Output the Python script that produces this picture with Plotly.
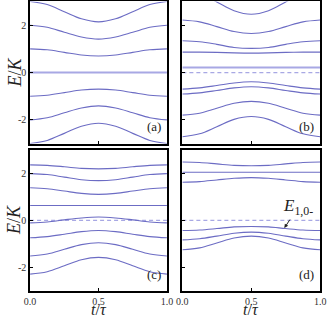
import plotly.graph_objects as go

T = [0.0, 0.125, 0.25, 0.375, 0.5, 0.625, 0.75, 0.875, 1.0]

panel_a = [
    [3.00, 2.87, 2.57, 2.27, 2.14, 2.27, 2.57, 2.87, 3.00],
    [2.00, 1.91, 1.70, 1.50, 1.41, 1.50, 1.70, 1.91, 2.00],
    [1.00, 0.96, 0.85, 0.74, 0.70, 0.74, 0.85, 0.96, 1.00],
    [-1.00, -0.96, -0.85, -0.74, -0.70, -0.74, -0.85, -0.96, -1.00],
    [-2.00, -1.91, -1.70, -1.50, -1.41, -1.50, -1.70, -1.91, -2.00],
    [-3.00, -2.87, -2.57, -2.27, -2.14, -2.27, -2.57, -2.87, -3.00],
]
panel_a_light = [0.0, 0.0, 0.0, 0.0, 0.0, 0.0, 0.0, 0.0, 0.0]

panel_b = [
    [3.50, 3.35, 2.98, 2.61, 2.46, 2.61, 2.98, 3.35, 3.50],
    [2.22, 2.14, 1.94, 1.73, 1.65, 1.73, 1.94, 2.14, 2.22],
    [1.34, 1.30, 1.19, 1.06, 1.02, 1.06, 1.19, 1.30, 1.34],
    [0.86, 0.86, 0.85, 0.83, 0.82, 0.83, 0.85, 0.86, 0.86],
    [-0.70, -0.65, -0.55, -0.44, -0.39, -0.44, -0.55, -0.65, -0.70],
    [-0.91, -0.86, -0.76, -0.65, -0.60, -0.65, -0.76, -0.86, -0.91],
    [-1.80, -1.72, -1.51, -1.30, -1.22, -1.30, -1.51, -1.72, -1.80],
    [-2.71, -2.59, -2.29, -1.98, -1.86, -1.98, -2.29, -2.59, -2.71],
]
panel_b_light = [0.21, 0.21, 0.21, 0.21, 0.21, 0.21, 0.21, 0.21, 0.21]

panel_c = [
    [2.35, 2.33, 2.27, 2.20, 2.18, 2.20, 2.27, 2.33, 2.35],
    [1.98, 1.94, 1.83, 1.72, 1.68, 1.72, 1.83, 1.94, 1.98],
    [1.38, 1.34, 1.24, 1.14, 1.10, 1.14, 1.24, 1.34, 1.38],
    [0.63, 0.63, 0.63, 0.63, 0.63, 0.63, 0.63, 0.63, 0.63],
    [-0.11, -0.07, 0.02, 0.10, 0.14, 0.10, 0.02, -0.07, -0.11],
    [-0.74, -0.69, -0.59, -0.48, -0.43, -0.48, -0.59, -0.69, -0.74],
    [-1.51, -1.43, -1.23, -1.03, -0.95, -1.03, -1.23, -1.43, -1.51],
    [-2.28, -2.18, -1.93, -1.67, -1.57, -1.67, -1.93, -2.18, -2.28],
]

panel_d = [
    [2.47, 2.45, 2.39, 2.33, 2.31, 2.33, 2.39, 2.45, 2.47],
    [2.04, 2.04, 2.04, 2.04, 2.04, 2.04, 2.04, 2.04, 2.04],
    [1.61, 1.64, 1.71, 1.78, 1.81, 1.78, 1.71, 1.64, 1.61],
    [-0.43, -0.41, -0.35, -0.28, -0.26, -0.28, -0.35, -0.41, -0.43],
    [-0.83, -0.78, -0.67, -0.55, -0.50, -0.55, -0.67, -0.78, -0.83],
    [-1.25, -1.17, -0.96, -0.75, -0.67, -0.75, -0.96, -1.17, -1.25],
]

ZERO = [0.0, 0.0]
ZERO_T = [0.0, 1.0]

y_ticks = [-2, 0, 2]
y_tick_text = ["-2", "0", "2"]
x_ticks = [0.0, 0.5, 1.0]
x_tick_text = ["0.0", "0.5", "1.0"]
panel_labels = ["(a)", "(b)", "(c)", "(d)"]

LINE = "#6c6cc4"
LIGHT = "#a8a8e4"
FONT = "Liberation Serif"

W, H = 331, 317
fig = go.Figure()

axes = [("x", "y"), ("x2", "y2"), ("x3", "y3"), ("x4", "y4")]


def add_lines(idx, lines):
    xa, ya = axes[idx]
    for vals in lines:
        fig.add_trace(go.Scatter(x=T, y=vals, mode="lines", line=dict(color=LINE, width=1.1, shape="spline"),
                                 xaxis=xa, yaxis=ya, showlegend=False, hoverinfo="skip"))


def add_light(idx, vals):
    xa, ya = axes[idx]
    fig.add_trace(go.Scatter(x=T, y=vals, mode="lines", line=dict(color=LIGHT, width=2),
                             xaxis=xa, yaxis=ya, showlegend=False, hoverinfo="skip"))


def add_dashed(idx):
    xa, ya = axes[idx]
    fig.add_trace(go.Scatter(x=ZERO_T, y=ZERO, mode="lines", line=dict(color=LIGHT, width=1.3, dash="4px,3px"),
                             xaxis=xa, yaxis=ya, showlegend=False, hoverinfo="skip"))


add_light(0, panel_a_light)
add_lines(0, panel_a)
add_dashed(1)
add_light(1, panel_b_light)
add_lines(1, panel_b)
add_dashed(2)
add_lines(2, panel_c)
add_dashed(3)
add_lines(3, panel_d)

xdom_l = [25 / W, 167 / W]
xdom_r = [183 / W, 326 / W]
ydom_t = [1 - 143 / H, 1 - 0.5 / H]
ydom_b = [1 - 291 / H, 1 - 149 / H]

common_x = dict(range=[0, 1], showline=True, linecolor="black", linewidth=1.5, mirror=True,
                ticks="inside", ticklen=3, tickcolor="black", tickvals=x_ticks, ticktext=x_tick_text,
                showgrid=False, zeroline=False, tickfont=dict(family=FONT, size=10, color="#333"))
common_y = dict(range=[-3, 3], showline=True, linecolor="black", linewidth=1.5, mirror=True,
                ticks="inside", ticklen=3, tickcolor="black", tickvals=y_ticks, ticktext=y_tick_text,
                showgrid=False, zeroline=False, tickfont=dict(family=FONT, size=10, color="#333"))

fig.update_layout(
    width=W, height=H, margin=dict(l=0, r=0, t=0, b=0),
    paper_bgcolor="white", plot_bgcolor="white",
    xaxis=dict(common_x, domain=xdom_l, anchor="y", showticklabels=False),
    yaxis=dict(common_y, domain=ydom_t, anchor="x"),
    xaxis2=dict(common_x, domain=xdom_r, anchor="y2", showticklabels=False),
    yaxis2=dict(common_y, domain=ydom_t, anchor="x2", showticklabels=False),
    xaxis3=dict(common_x, domain=xdom_l, anchor="y3"),
    yaxis3=dict(common_y, domain=ydom_b, anchor="x3"),
    xaxis4=dict(common_x, domain=xdom_r, anchor="y4"),
    yaxis4=dict(common_y, domain=ydom_b, anchor="x4", showticklabels=False),
)

annotations = []
label_pos = [("x", "y"), ("x2", "y2"), ("x3", "y3"), ("x4", "y4")]
for (xa, ya), lab in zip(label_pos, panel_labels):
    annotations.append(dict(x=0.97, y=-2.7, xref=xa, yref=ya, text=lab, showarrow=False,
                            xanchor="right", yanchor="bottom", font=dict(family=FONT, size=13, color="#222")))

for yc in [72, 220]:
    annotations.append(dict(x=9 / W, y=1 - yc / H, xref="paper", yref="paper", text="<i>E</i>/<i>K</i>",
                            showarrow=False, textangle=-90, xanchor="center", yanchor="middle",
                            font=dict(family=FONT, size=18, color="#222")))
for xc in [96, 254.5]:
    annotations.append(dict(x=xc / W, y=0, xref="paper", yref="paper", text="<i>t</i>/<i>τ</i>",
                            showarrow=False, xanchor="center", yanchor="bottom", yshift=-3,
                            font=dict(family=FONT, size=16, color="#222")))

annotations.append(dict(x=0.74, y=-0.33, xref="x4", yref="y4", ax=0.84, ay=0.56, axref="x4", ayref="y4",
                        text="<i>E</i><sub>1,0-</sub>", showarrow=True, arrowhead=2, arrowsize=0.8,
                        arrowwidth=1, arrowcolor="#222", font=dict(family=FONT, size=17, color="#222")))

fig.update_layout(annotations=annotations)
fig.write_html("out.html", config={"displayModeBar": False},
               post_script="document.body.style.margin='0';document.body.style.padding='0';")
